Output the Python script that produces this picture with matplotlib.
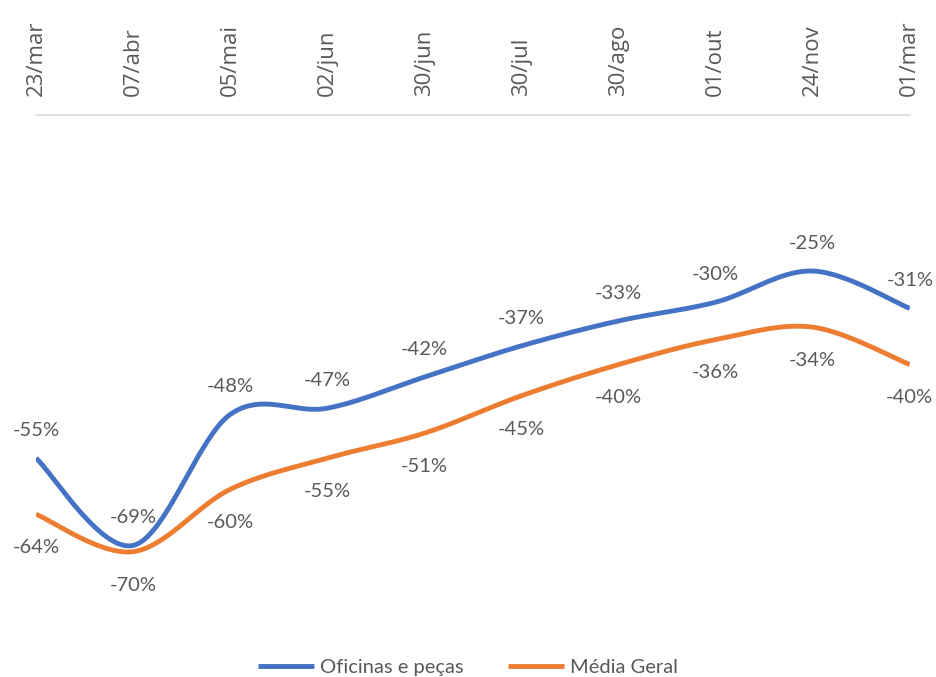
import matplotlib.pyplot as plt
import numpy as np

dates = ["23/mar", "07/abr", "05/mai", "02/jun", "30/jun",
         "30/jul", "30/ago", "01/out", "24/nov", "01/mar"]
oficinas = [-55, -69, -48, -47, -42, -37, -33, -30, -25, -31]
media = [-64, -70, -60, -55, -51, -45, -40, -36, -34, -40]

BLUE = "#4472C4"
ORANGE = "#ED7D31"
GRAY = "#595959"


def smooth(x, y, n=40):
    # Excel-like smoothing: cubic Bezier with Catmull-Rom control points
    x = np.asarray(x, float)
    y = np.asarray(y, float)
    px = np.concatenate([[x[0]], x, [x[-1]]])
    py = np.concatenate([[y[0]], y, [y[-1]]])
    xs, ys = [], []
    t = np.linspace(0, 1, n)
    for i in range(1, len(x)):
        p0 = np.array([px[i], py[i]])
        p3 = np.array([px[i + 1], py[i + 1]])
        c1 = p0 + (p3 - np.array([px[i - 1], py[i - 1]])) / 6
        c2 = p3 - (np.array([px[i + 2], py[i + 2]]) - p0) / 6
        b = ((1 - t) ** 3)[:, None] * p0 + (3 * (1 - t) ** 2 * t)[:, None] * c1 \
            + (3 * (1 - t) * t ** 2)[:, None] * c2 + (t ** 3)[:, None] * p3
        xs.append(b[:, 0])
        ys.append(b[:, 1])
    return np.concatenate(xs), np.concatenate(ys)


fig = plt.figure(figsize=(9.36, 6.77), dpi=100)
ax = fig.add_axes([0.0385, 0.093, 0.9335, 0.737])

x = np.arange(len(dates))
sx, sy = smooth(x, oficinas)
ax.plot(sx, sy, color=BLUE, lw=3.5, solid_capstyle="butt", label="Oficinas e peças")
sx, sy = smooth(x, media)
ax.plot(sx, sy, color=ORANGE, lw=3.5, solid_capstyle="butt", label="Média Geral")

for xi, v in zip(x, oficinas):
    ax.annotate(f"{v}%", (xi, v), xytext=(0, 20), textcoords="offset points",
                ha="center", va="center", fontsize=14.5, color=GRAY, family="Lato")
for xi, v in zip(x, media):
    ax.annotate(f"{v}%", (xi, v), xytext=(0, -24), textcoords="offset points",
                ha="center", va="center", fontsize=14.5, color=GRAY, family="Lato")

ax.set_xlim(0, len(dates) - 1)
ax.set_ylim(-80, 0)
ax.xaxis.tick_top()
ax.set_xticks(x)
ax.set_xticklabels(dates, rotation=90, fontsize=16, color=GRAY, family="Open Sans")
ax.tick_params(axis="x", length=0, pad=14)
ax.set_yticks([])
for s in ["left", "right", "bottom"]:
    ax.spines[s].set_visible(False)
ax.spines["top"].set_color("#D9D9D9")
ax.spines["top"].set_linewidth(1.2)

leg = fig.legend(loc="lower center", bbox_to_anchor=(0.5, -0.025), ncol=2, frameon=False,
                 prop={"family": "Lato", "size": 14.5}, handlelength=2.8,
                 handletextpad=0.3, columnspacing=2.2)
for t in leg.get_texts():
    t.set_color(GRAY)

fig.savefig("out.png", dpi=100)
